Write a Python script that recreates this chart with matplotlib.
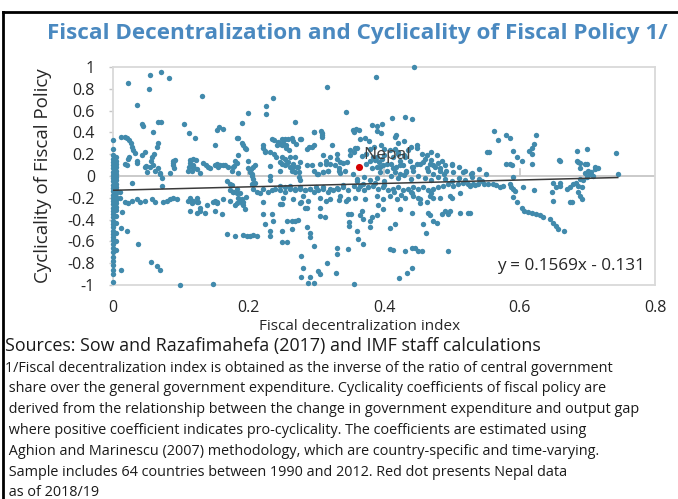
import numpy as np
import matplotlib.pyplot as plt
from matplotlib.lines import Line2D

plt.rcParams['font.family'] = ['Open Sans', 'DejaVu Sans']

# values: (fiscal decentralization index, cyclicality)
zero_col = [(0.0, v) for v in [0.33, 0.25, 0.19, 0.16, 0.13, 0.10, 0.07, 0.04, 0.01, -0.02, -0.05,
                               -0.08, -0.11, -0.14, -0.17, -0.20, -0.23, -0.26, -0.29, -0.32, -0.35,
                               -0.38, -0.41, -0.44, -0.47, -0.50, -0.53, -0.56, -0.59, -0.62, -0.66,
                               -0.70, -0.74, -0.78, -0.82, -0.86, -0.90, -0.97]]
zero_col2 = [(0.004, v) for v in [0.17, 0.14, 0.11, 0.08, 0.05, 0.02, -0.01, -0.04, -0.07, -0.10,
                                  -0.13, -0.16, -0.19, -0.22, -0.25, -0.28, -0.31, -0.37, -0.43,
                                  -0.52, -0.60, -0.68]]

upper_pts = [(0.022, 0.85), (0.055, 0.93), (0.071, 0.95), (0.083, 0.90), (0.053, 0.80), (0.035, 0.65),
             (0.131, 0.73), (0.236, 0.72), (0.226, 0.64), (0.226, 0.57), (0.200, 0.58), (0.190, 0.49),
             (0.043, 0.48), (0.045, 0.46), (0.067, 0.50), (0.071, 0.50), (0.105, 0.48), (0.112, 0.39),
             (0.121, 0.35), (0.059, 0.40), (0.153, 0.42), (0.156, 0.45), (0.162, 0.43), (0.185, 0.35),
             (0.012, 0.36), (0.017, 0.36), (0.021, 0.35), (0.024, 0.33), (0.066, 0.30), (0.150, 0.28),
             (0.444, 1.00), (0.388, 0.91), (0.316, 0.82), (0.344, 0.59), (0.269, 0.50), (0.297, 0.40),
             (0.307, 0.41), (0.309, 0.38), (0.277, 0.34), (0.354, 0.42), (0.358, 0.43), (0.363, 0.42),
             (0.356, 0.40), (0.382, 0.47), (0.389, 0.46), (0.397, 0.48), (0.389, 0.41), (0.396, 0.39),
             (0.412, 0.53), (0.431, 0.54), (0.441, 0.52), (0.418, 0.38), (0.365, 0.34), (0.372, 0.35),
             (0.378, 0.32), (0.430, 0.32), (0.420, 0.30), (0.416, 0.36), (0.234, 0.34), (0.238, 0.33),
             (0.244, 0.31), (0.249, 0.34), (0.254, 0.34), (0.259, 0.34), (0.264, 0.35), (0.276, 0.34),
             (0.296, 0.40), (0.308, 0.39), (0.308, 0.36), (0.183, 0.35), (0.562, 0.41), (0.568, 0.33),
             (0.580, 0.38), (0.586, 0.35), (0.624, 0.38)]

left_pts = [(0.026, 0.30), (0.028, 0.27), (0.030, 0.24), (0.032, 0.21), (0.047, 0.22), (0.065, 0.27),
            (0.060, 0.20), (0.058, 0.17), (0.056, 0.14), (0.022, 0.16), (0.035, 0.14), (0.018, 0.11),
            (0.048, 0.09), (0.055, 0.08), (0.024, 0.17), (0.035, 0.12), (0.020, 0.10), (0.043, 0.19),
            (0.062, 0.05), (0.070, 0.03), (0.050, 0.04), (0.088, 0.14), (0.092, 0.15), (0.088, 0.10),
            (0.090, 0.07), (0.084, 0.03), (0.089, 0.12), (0.114, 0.15), (0.118, 0.16), (0.122, 0.15),
            (0.114, 0.12), (0.118, 0.10), (0.112, 0.08), (0.120, 0.07), (0.116, 0.05), (0.124, 0.06),
            (0.110, 0.05), (0.118, 0.08), (0.128, 0.03), (0.133, 0.12), (0.140, 0.08), (0.138, 0.10),
            (0.143, 0.07), (0.150, 0.10), (0.155, 0.08), (0.162, 0.10), (0.170, 0.08), (0.177, 0.08),
            (0.183, 0.12), (0.185, 0.03), (0.180, 0.14), (0.200, 0.14), (0.203, 0.06), (0.210, 0.10),
            (0.207, 0.08), (0.153, 0.11), (0.158, 0.10), (0.165, 0.10), (0.178, 0.09), (0.175, 0.05),
            (0.185, 0.19), (0.190, 0.30), (0.192, 0.28), (0.195, 0.26), (0.197, 0.25), (0.222, 0.26),
            (0.225, 0.23), (0.222, 0.28), (0.224, 0.22), (0.069, 0.02), (0.072, -0.02), (0.067, 0.07),
            (0.047, 0.08), (0.059, 0.10), (0.028, -0.06), (0.072, -0.09), (0.010, -0.15), (0.010, -0.20),
            (0.018, -0.24), (0.022, -0.25), (0.028, -0.23), (0.035, -0.21), (0.040, -0.24), (0.047, -0.23),
            (0.058, -0.21), (0.062, -0.24), (0.074, -0.24), (0.080, -0.23), (0.084, -0.21), (0.089, -0.20),
            (0.095, -0.21), (0.111, -0.23), (0.117, -0.25), (0.124, -0.24), (0.128, -0.29), (0.139, -0.27),
            (0.148, -0.24), (0.154, -0.25), (0.114, -0.20), (0.118, -0.23), (0.124, -0.20), (0.125, -0.24),
            (0.114, -0.32), (0.124, -0.34), (0.128, -0.32), (0.136, -0.34), (0.153, -0.24), (0.151, -0.32),
            (0.161, -0.35), (0.173, -0.13), (0.177, -0.15), (0.183, -0.16), (0.185, -0.20), (0.187, -0.23),
            (0.190, -0.25), (0.192, -0.27), (0.195, -0.30), (0.183, -0.25), (0.173, -0.23), (0.205, 0.00),
            (0.207, -0.03), (0.210, -0.06), (0.205, -0.07), (0.232, 0.00), (0.232, -0.04), (0.168, -0.05),
            (0.175, -0.08)]

mid_pts = [(0.232, 0.22), (0.237, 0.20), (0.241, 0.17), (0.249, 0.17), (0.254, 0.16), (0.261, 0.17),
           (0.259, 0.13), (0.249, 0.11), (0.254, 0.10), (0.261, 0.08), (0.266, 0.11), (0.271, 0.08),
           (0.264, 0.05), (0.269, 0.04), (0.274, 0.04), (0.274, -0.01), (0.276, -0.04), (0.242, 0.28),
           (0.246, 0.29), (0.251, 0.30), (0.256, 0.28), (0.245, 0.30), (0.250, 0.28), (0.255, 0.26),
           (0.260, 0.24), (0.265, 0.32), (0.270, 0.29), (0.200, 0.07), (0.202, 0.04), (0.205, 0.02),
           (0.232, 0.09), (0.293, 0.10), (0.303, 0.02), (0.310, 0.04), (0.318, 0.05), (0.320, 0.17),
           (0.315, 0.11), (0.333, 0.05), (0.286, 0.25), (0.293, 0.27), (0.323, 0.28), (0.290, 0.27),
           (0.297, 0.28), (0.246, 0.13), (0.256, 0.11), (0.266, 0.08), (0.276, 0.13), (0.286, 0.10),
           (0.296, 0.05), (0.246, 0.05), (0.268, 0.17), (0.273, 0.08), (0.173, -0.07), (0.177, -0.15),
           (0.183, -0.12), (0.187, -0.16), (0.190, -0.21), (0.192, -0.24), (0.197, -0.19), (0.207, -0.12),
           (0.212, -0.15), (0.217, -0.16), (0.222, -0.12), (0.229, -0.15), (0.234, -0.13), (0.239, -0.12),
           (0.246, -0.13), (0.254, -0.15), (0.261, -0.12), (0.268, -0.13), (0.276, -0.12), (0.283, -0.13),
           (0.291, -0.12), (0.300, -0.10), (0.310, -0.10), (0.320, -0.12), (0.151, -0.23), (0.163, -0.21),
           (0.180, -0.27), (0.222, -0.24), (0.278, -0.24), (0.286, -0.29), (0.305, -0.29), (0.315, -0.23)]

center_pts = [(0.310, 0.19), (0.315, 0.14), (0.306, 0.11), (0.320, 0.11), (0.328, 0.10), (0.333, 0.07),
              (0.335, 0.13), (0.342, 0.05), (0.310, 0.04), (0.301, 0.02), (0.318, 0.05), (0.330, 0.20),
              (0.350, 0.24), (0.357, 0.26), (0.367, 0.18), (0.374, 0.20), (0.379, 0.14), (0.384, 0.17),
              (0.392, 0.13), (0.397, 0.16), (0.389, 0.08), (0.399, 0.10), (0.404, 0.05), (0.394, 0.04),
              (0.409, 0.24), (0.416, 0.25), (0.421, 0.20), (0.414, 0.17), (0.424, 0.14), (0.431, 0.17),
              (0.436, 0.24), (0.438, 0.14), (0.428, 0.10), (0.418, 0.08), (0.411, 0.11), (0.441, 0.08),
              (0.448, 0.11), (0.443, 0.05), (0.433, 0.04), (0.424, 0.02), (0.416, 0.04), (0.449, 0.26),
              (0.456, 0.20), (0.463, 0.19), (0.470, 0.22), (0.478, 0.19), (0.485, 0.14), (0.500, 0.11),
              (0.458, 0.13), (0.468, 0.11), (0.475, 0.08), (0.483, 0.07), (0.492, 0.05), (0.502, 0.04),
              (0.465, 0.05), (0.473, 0.02), (0.488, 0.02), (0.350, 0.19), (0.355, 0.22), (0.360, 0.26),
              (0.380, 0.25), (0.385, 0.27), (0.395, 0.28), (0.400, 0.25), (0.390, 0.17), (0.400, 0.19),
              (0.386, 0.15), (0.420, 0.22), (0.430, 0.19), (0.440, 0.27), (0.448, 0.28), (0.460, 0.16),
              (0.470, 0.15), (0.480, 0.12), (0.490, 0.10), (0.510, 0.08), (0.520, 0.05), (0.530, 0.03),
              (0.540, 0.06), (0.550, 0.02), (0.552, 0.22), (0.330, 0.16), (0.335, 0.03), (0.340, 0.12),
              (0.345, 0.13), (0.374, 0.11), (0.382, 0.07), (0.394, 0.08), (0.404, 0.11), (0.414, 0.07),
              (0.424, 0.10), (0.433, 0.05), (0.443, 0.08), (0.453, 0.11), (0.463, 0.07), (0.472, 0.10),
              (0.483, 0.05), (0.500, 0.10), (0.517, 0.04), (0.529, 0.02), (0.354, 0.02),
              (0.360, -0.03), (0.370, -0.01), (0.380, -0.04), (0.390, -0.02), (0.400, -0.05), (0.410, 0.00),
              (0.420, -0.02), (0.430, 0.01), (0.440, -0.03), (0.450, 0.00), (0.460, -0.02), (0.470, -0.04),
              (0.480, -0.01), (0.490, -0.03), (0.500, -0.05), (0.510, -0.02), (0.520, -0.04), (0.530, -0.01),
              (0.540, -0.03), (0.545, -0.05),
              (0.246, -0.09), (0.254, -0.10), (0.261, -0.09), (0.268, -0.12), (0.276, -0.10), (0.283, -0.13),
              (0.291, -0.12), (0.296, -0.15), (0.303, -0.13), (0.310, -0.12), (0.318, -0.15), (0.325, -0.13),
              (0.332, -0.12), (0.340, -0.10), (0.347, -0.13), (0.355, -0.09), (0.362, -0.12), (0.369, -0.07),
              (0.377, -0.10), (0.384, -0.09), (0.391, -0.12), (0.399, -0.10), (0.406, -0.13), (0.414, -0.12),
              (0.421, -0.10), (0.428, -0.13), (0.436, -0.12), (0.443, -0.10), (0.450, -0.12), (0.458, -0.10),
              (0.465, -0.13), (0.472, -0.12), (0.480, -0.10), (0.487, -0.09), (0.495, -0.07), (0.502, -0.09),
              (0.509, -0.07), (0.517, -0.06), (0.524, -0.07), (0.532, -0.07),
              (0.251, -0.20), (0.266, -0.21), (0.281, -0.18), (0.288, -0.23), (0.306, -0.20), (0.320, -0.21),
              (0.335, -0.18), (0.344, -0.23), (0.357, -0.20), (0.372, -0.21), (0.389, -0.18), (0.399, -0.21),
              (0.409, -0.18), (0.419, -0.21), (0.431, -0.20), (0.443, -0.18), (0.453, -0.21), (0.468, -0.18),
              (0.483, -0.20), (0.498, -0.18), (0.512, -0.16),
              (0.330, -0.11), (0.340, -0.08), (0.347, -0.21), (0.360, -0.05), (0.365, -0.09), (0.370, -0.13),
              (0.387, -0.06), (0.400, -0.08), (0.415, -0.15), (0.425, -0.17), (0.440, -0.15), (0.450, -0.20),
              (0.441, -0.16), (0.470, -0.16), (0.473, -0.20), (0.500, -0.20)]

lower_pts = [(0.013, -0.33), (0.012, -0.48), (0.020, -0.50), (0.037, -0.62), (0.056, -0.79), (0.065, -0.83),
             (0.069, -0.86), (0.012, -0.86), (0.099, -1.00), (0.148, -0.99), (0.168, -0.53), (0.180, -0.55),
             (0.192, -0.54), (0.198, -0.55), (0.202, -0.55), (0.207, -0.54), (0.212, -0.55), (0.221, -0.35),
             (0.224, -0.44), (0.235, -0.35), (0.236, -0.41), (0.232, -0.50), (0.232, -0.55), (0.250, -0.50),
             (0.250, -0.61), (0.249, -0.26), (0.257, -0.41), (0.264, -0.41), (0.268, -0.41), (0.273, -0.40),
             (0.264, -0.49), (0.257, -0.61), (0.286, -0.47), (0.291, -0.52), (0.291, -0.56), (0.296, -0.64),
             (0.277, -0.73), (0.280, -0.84), (0.277, -0.93), (0.291, -0.93), (0.288, -0.98), (0.296, -0.98),
             (0.303, -0.87), (0.306, -0.90), (0.316, -0.80), (0.330, -0.66), (0.330, -0.72), (0.329, -0.89),
             (0.306, -0.37), (0.313, -0.38), (0.347, -0.35), (0.352, -0.35), (0.348, -0.42), (0.349, -0.46),
             (0.365, -0.36), (0.367, -0.32), (0.369, -0.39), (0.379, -0.47), (0.382, -0.38), (0.379, -0.41),
             (0.389, -0.36), (0.391, -0.27), (0.398, -0.30), (0.409, -0.48), (0.416, -0.44), (0.424, -0.30),
             (0.441, -0.34), (0.360, -0.50), (0.362, -0.58), (0.369, -0.62), (0.347, -0.67), (0.356, -0.99),
             (0.409, -0.67), (0.413, -0.68), (0.422, -0.94), (0.431, -0.69), (0.441, -0.66), (0.446, -0.66),
             (0.434, -0.89), (0.441, -0.84), (0.450, -0.69), (0.456, -0.69), (0.495, -0.69), (0.453, -0.25),
             (0.457, -0.44), (0.462, -0.52), (0.465, -0.34), (0.468, -0.36), (0.473, -0.41), (0.478, -0.43),
             (0.485, -0.35), (0.490, -0.32), (0.497, -0.32), (0.495, -0.35), (0.512, -0.34), (0.524, -0.34),
             (0.527, -0.34), (0.463, -0.24), (0.246, -0.26), (0.276, -0.25), (0.283, -0.29), (0.334, -0.22)]

right_pts = [(0.622, 0.29), (0.618, 0.26), (0.614, 0.23), (0.618, 0.20), (0.555, 0.22), (0.590, 0.23),
             (0.596, 0.17), (0.604, 0.14), (0.580, 0.11), (0.589, 0.10), (0.618, 0.11), (0.658, 0.15),
             (0.685, 0.23), (0.700, 0.25), (0.685, 0.14), (0.686, 0.13), (0.700, 0.11), (0.742, 0.21),
             (0.745, 0.02), (0.590, -0.01), (0.660, 0.14), (0.690, 0.12), (0.697, 0.11), (0.586, 0.11),
             (0.711, 0.08), (0.716, 0.07), (0.701, 0.05), (0.696, 0.03), (0.704, 0.02), (0.709, 0.00),
             (0.699, -0.01), (0.689, -0.03), (0.694, -0.04), (0.684, -0.06), (0.679, -0.07), (0.674, -0.10),
             (0.687, -0.09), (0.692, -0.10), (0.670, -0.12), (0.687, -0.15), (0.689, -0.18), (0.692, -0.21),
             (0.674, -0.24), (0.677, -0.24), (0.712, 0.06), (0.705, 0.04), (0.690, 0.07), (0.648, -0.15),
             (0.650, -0.23), (0.654, -0.10), (0.660, -0.09), (0.650, -0.06), (0.660, -0.06), (0.527, -0.09),
             (0.534, -0.08), (0.539, -0.07), (0.547, -0.07), (0.554, -0.07), (0.561, -0.07), (0.566, -0.08),
             (0.571, -0.10), (0.576, -0.09), (0.586, -0.07), (0.588, -0.10), (0.591, -0.12), (0.594, -0.14),
             (0.605, -0.10), (0.622, -0.13), (0.591, -0.19), (0.596, -0.24), (0.603, -0.29), (0.606, -0.32),
             (0.613, -0.33), (0.618, -0.34), (0.625, -0.35), (0.630, -0.36), (0.635, -0.38), (0.645, -0.39),
             (0.650, -0.43), (0.654, -0.46), (0.657, -0.49), (0.665, -0.50)]

nepal = (0.363, 0.08)
slope, intercept = 0.1569, -0.131
trend_x = [0.0, 0.745]

x_ticks = [0, 0.2, 0.4, 0.6, 0.8]
x_ticklabels = ['0', '0.2', '0.4', '0.6', '0.8']
y_ticks = [1, 0.8, 0.6, 0.4, 0.2, 0, -0.2, -0.4, -0.6, -0.8, -1]
y_ticklabels = ['1', '0.8', '0.6', '0.4', '0.2', '0', '-0.2', '-0.4', '-0.6', '-0.8', '-1']

notes = ['1/Fiscal decentralization index is obtained as the inverse of the ratio of central government',
         ' share over the general government expenditure. Cyclicality coefficients of fiscal policy are',
         ' derived from the relationship between the change in government expenditure and output gap',
         ' where positive coefficient indicates pro-cyclicality. The coefficients are estimated using',
         ' Aghion and Marinescu (2007) methodology, which are country-specific and time-varying.',
         ' Sample includes 64 countries between 1990 and 2012. Red dot presents Nepal data',
         ' as of 2018/19']

pts = np.array(zero_col + zero_col2 + upper_pts + left_pts + mid_pts + center_pts + lower_pts + right_pts)

W, H = 678, 499
fig = plt.figure(figsize=(W / 100, H / 100), dpi=100)
ax = fig.add_axes([113 / W, 1 - 285 / H, (655 - 113) / W, (285 - 67) / H])

dot = '#418aac'
ax.scatter(pts[:, 0], pts[:, 1], s=15, color=dot, linewidths=0, zorder=3, clip_on=False)
ax.scatter([nepal[0]], [nepal[1]], s=26, color='#d50000', linewidths=0, zorder=5)
ax.annotate('Nepal', nepal, xytext=(3, 3), textcoords='offset points', fontsize=12.5,
            color='#404040', va='bottom', zorder=6)

tx = np.array(trend_x)
ax.plot(tx, slope * tx + intercept, color='#3a3a3a', lw=1.1, zorder=4)

# horizontal axis crossing at zero, with small tick marks
ax.axhline(0, color='#c6c6c6', lw=1.3, zorder=1)
for t in x_ticks[1:-1]:
    ax.plot([t, t], [0, 0.06], color='#c6c6c6', lw=1.2, zorder=1)

ax.set_xlim(0, 0.8)
ax.set_ylim(-1, 1)
ax.set_xticks(x_ticks)
ax.set_xticklabels(x_ticklabels)
ax.set_yticks(y_ticks)
ax.set_yticklabels(y_ticklabels)
ax.tick_params(axis='x', length=0, pad=11, labelsize=11.5, labelcolor='#262626')
ax.tick_params(axis='y', length=3, width=1, color='#c6c6c6', pad=10, labelsize=11.5, labelcolor='#262626')
for s in ax.spines.values():
    s.set_color('#d9d9d9')
    s.set_linewidth(1.3)

ax.set_xlabel('Fiscal decentralization index', fontsize=11, color='#262626')
ax.xaxis.set_label_coords((360 - 113) / 542, -(319 - 285) / 218)
ax.set_ylabel('Cyclicality of Fiscal Policy', fontsize=13.5, color='#262626')
ax.yaxis.set_label_coords(-(113 - 52) / 542, 0.5)

ax.text((645 - 113) / 542, (285 - 266) / 218, 'y = 0.1569x - 0.131', transform=ax.transAxes,
        fontsize=12.3, color='#262626', ha='right', va='center')

fig.text(357 / W, 1 - 33 / H, 'Fiscal Decentralization and Cyclicality of Fiscal Policy 1/',
         fontsize=16.2, fontweight='bold', color='#4a89c0', ha='center', va='center')

fig.text(5 / W, 1 - 346 / H, 'Sources: Sow and Razafimahefa (2017) and IMF staff calculations',
         fontsize=12.9, color='#1a1a1a', va='center')
for i, line in enumerate(notes):
    fig.text(5 / W, 1 - (368 + 20.8 * i) / H, line, fontsize=10.4, color='#1a1a1a', va='center')

# black frame of the screenshot
fig.add_artist(Line2D([3 / W, 1], [1 - 12 / H, 1 - 12 / H], color='black', lw=2))
fig.add_artist(Line2D([3 / W, 3 / W], [0, 1 - 12 / H], color='black', lw=2))

fig.savefig('out.png', dpi=100)
